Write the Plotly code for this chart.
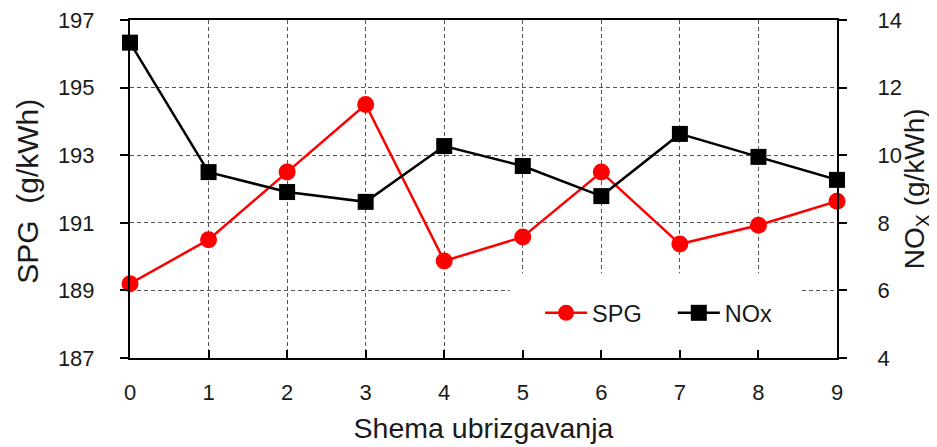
import plotly.graph_objects as go

schemes = [0, 1, 2, 3, 4, 5, 6, 7, 8, 9]
spg = [189.2, 190.5, 192.5, 194.5, 189.87, 190.58, 192.5, 190.37, 190.93, 191.64]
nox = [13.33, 9.5, 8.91, 8.62, 10.27, 9.68, 8.79, 10.63, 9.95, 9.27]
left_ticks = [187, 189, 191, 193, 195, 197]
right_ticks = [4, 6, 8, 10, 12, 14]

FONT = "Liberation Sans, Arial, sans-serif"
GRID = dict(gridcolor="#555", griddash="4px,3px", gridwidth=1.2)

fig = go.Figure()
fig.add_trace(go.Scatter(
    x=schemes, y=spg, name="SPG\u00a0\u00a0\u00a0\u00a0", mode="lines+markers",
    line=dict(color="#ff0000", width=2.5),
    marker=dict(symbol="circle", size=17, color="#ff0000"),
    yaxis="y", cliponaxis=False))
fig.add_trace(go.Scatter(
    x=schemes, y=nox, name="NOx", mode="lines+markers",
    line=dict(color="#000000", width=2.5),
    marker=dict(symbol="square", size=16, color="#000000"),
    yaxis="y2", cliponaxis=False))

fig.update_layout(
    width=929, height=439,
    margin=dict(l=122, r=100, t=12, b=89, autoexpand=False),
    paper_bgcolor="white", plot_bgcolor="white",
    font=dict(family=FONT, color="#1a1a1a", size=22),
    showlegend=True,
    legend=dict(orientation="h", x=0.58, y=0.133, xanchor="left", yanchor="middle",
                bgcolor="rgba(0,0,0,0)", font=dict(size=23.5), itemwidth=42,
                tracegroupgap=0),
    xaxis=dict(range=[0, 9], tickvals=schemes, ticks="inside", ticklen=8,
               tickcolor="#000", tickwidth=1.5, showline=True, linecolor="#000",
               linewidth=2, mirror=True,
               showgrid=True, zeroline=False, tickfont=dict(size=22),
               ticklabelstandoff=14, ticklabeloverflow="allow",
               automargin=False, **GRID,
               title=dict(text="Shema ubrizgavanja", font=dict(size=28.5), standoff=14)),
    yaxis=dict(range=[187, 197], tickvals=left_ticks, ticks="outside", ticklen=8,
               tickcolor="#000", tickwidth=1.5, showline=True, linecolor="#000",
               linewidth=2, showgrid=True, zeroline=False, tickfont=dict(size=22),
               ticklabelstandoff=21, ticklabeloverflow="allow",
               automargin=False, **GRID),
    yaxis2=dict(range=[4, 14], tickvals=right_ticks, ticks="outside", ticklen=8,
                tickcolor="#000", tickwidth=1.5, showline=True, linecolor="#000",
                linewidth=2, overlaying="y", side="right", showgrid=False,
                zeroline=False, tickfont=dict(size=22), ticklabelstandoff=26,
                ticklabeloverflow="allow", automargin=False),
)

# axis titles for the two value axes
fig.add_annotation(text="SPG\u00a0\u00a0(g/kWh)", textangle=-90, showarrow=False,
                   xref="paper", yref="paper", x=-0.146, y=0.494,
                   xanchor="center", yanchor="middle", font=dict(size=30))
fig.add_annotation(text="NO<sub>X</sub> (g/kWh)", textangle=-90, showarrow=False,
                   xref="paper", yref="paper", x=1.112, y=0.5,
                   xanchor="center", yanchor="middle", font=dict(size=28))

# white box behind the legend, hiding grid lines there
fig.add_shape(type="rect", xref="paper", yref="paper",
              x0=0.537, x1=0.948, y0=0.024, y1=0.251,
              fillcolor="white", line=dict(width=0), layer="above")

fig.write_html("out.html")
